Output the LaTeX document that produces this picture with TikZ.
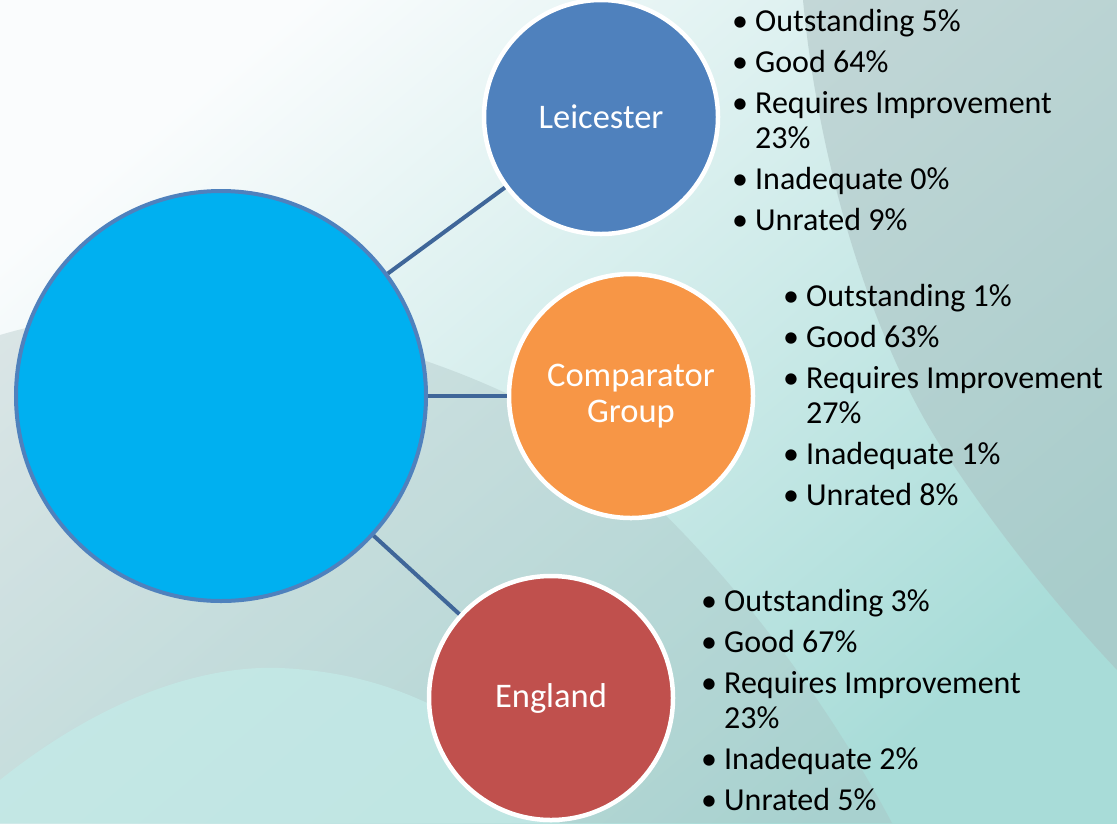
\documentclass[tikz,border=0pt]{standalone}
\usepackage{fontspec}
\setmainfont{Carlito}
\definecolor{hubblue}{HTML}{00B0F0}
\definecolor{hubedge}{HTML}{4F81BD}
\definecolor{leicol}{HTML}{4F81BD}
\definecolor{compcol}{HTML}{F79646}
\definecolor{engcol}{HTML}{C0504D}
\definecolor{linkblue}{HTML}{3F6699}
\definecolor{bgA}{HTML}{FAFCFD}
\definecolor{bgC}{HTML}{A8DCD8}
\definecolor{ridge}{HTML}{A9BFC0}
\definecolor{rightgray}{HTML}{A9BEBF}
\definecolor{hump}{HTML}{C3EAE7}
\definecolor{band}{HTML}{A6DFDB}
\newcommand\bul{\makebox[23pt][l]{•}}
\begin{document}
\begin{tikzpicture}[x=1pt,y=-1pt,
  hub/.style={circle, fill=hubblue, draw=hubedge, line width=4pt, minimum size=410pt, inner sep=0pt},
  spoke/.style={circle, draw=white, line width=4.5pt, inner sep=0pt, text=white, align=center, font=\fontsize{34.5}{36}\selectfont},
  link/.style={draw=linkblue, line width=4pt},
  bullets/.style={anchor=base west, inner sep=0pt, text=black, font=\fontsize{32}{35}\selectfont}
]
\useasboundingbox (0,0) rectangle (1117,823);
% background
\shade[shading=axis, top color=bgA, bottom color=bgC, shading angle=40] (0,0) rectangle (1117,823);
\fill[rightgray, opacity=0.5] (803,0) .. controls (820,180) and (880,360) .. (950,460) .. controls (1010,550) and (1070,620) .. (1117,670) -- (1117,0) -- cycle;
\fill[ridge, opacity=0.35] (0,335) .. controls (150,290) and (350,320) .. (510,395) .. controls (650,470) and (800,650) .. (892,823) -- (0,823) -- cycle;
\fill[hump, opacity=0.8] (0,780) .. controls (100,700) and (200,665) .. (280,668) .. controls (370,672) and (440,700) .. (520,760) -- (560,823) -- (0,823) -- cycle;
% nodes
\node[hub] (hub) at (221,396) {};
\node[spoke, fill=leicol, minimum size=234pt] (lei) at (601,117) {Leicester};
\node[spoke, fill=compcol, minimum size=244pt] (comp) at (631,396) {Comparator\\Group};
\node[spoke, fill=engcol, minimum size=244pt] (eng) at (551,698) {England};
% connectors
\draw[link] (hub) -- (lei);
\draw[link] (hub) -- (comp);
\draw[link] (hub) -- (eng);
% lists
\node[bullets] (leilist) at (732,31) {\begin{tabular}[t]{@{}l@{}l@{}}
\bul & Outstanding 5\%\\[6pt]
\bul & Good 64\%\\[6pt]
\bul & Requires Improvement\\
 & 23\%\\[6pt]
\bul & Inadequate 0\%\\[6pt]
\bul & Unrated 9\%
\end{tabular}};
\node[bullets] (complist) at (783,306) {\begin{tabular}[t]{@{}l@{}l@{}}
\bul & Outstanding 1\%\\[6pt]
\bul & Good 63\%\\[6pt]
\bul & Requires Improvement\\
 & 27\%\\[6pt]
\bul & Inadequate 1\%\\[6pt]
\bul & Unrated 8\%
\end{tabular}};
\node[bullets] (englist) at (701,611) {\begin{tabular}[t]{@{}l@{}l@{}}
\bul & Outstanding 3\%\\[6pt]
\bul & Good 67\%\\[6pt]
\bul & Requires Improvement\\
 & 23\%\\[6pt]
\bul & Inadequate 2\%\\[6pt]
\bul & Unrated 5\%
\end{tabular}};
\end{tikzpicture}
\end{document}
